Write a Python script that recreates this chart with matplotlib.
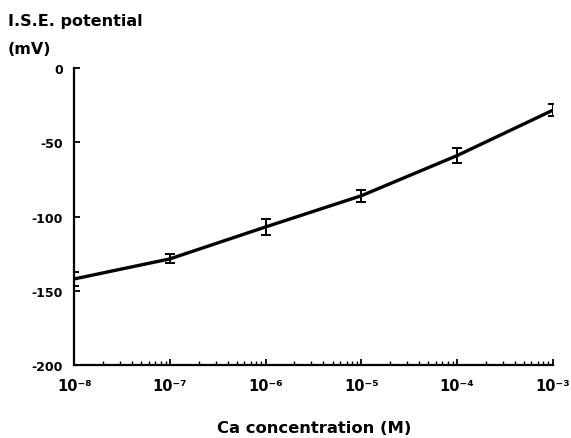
import matplotlib
matplotlib.use("Agg")
import matplotlib.pyplot as plt
from matplotlib.ticker import LogLocator, NullFormatter, FixedLocator

# data
ca_conc = [1e-8, 1e-7, 1e-6, 1e-5, 1e-4, 1e-3]
potential_mv = [-142, -128.5, -107, -86, -59, -28.5]
error_mv = [4.5, 3, 5.5, 4, 5, 4]

y_ticks = [0, -50, -100, -150, -200]
x_tick_labels = ["10\u207b\u2078", "10\u207b\u2077", "10\u207b\u2076",
                 "10\u207b\u2075", "10\u207b\u2074", "10\u207b\u00b3"]

plt.rcParams["font.family"] = ["DejaVu Sans"]
plt.rcParams["font.weight"] = "bold"

fig = plt.figure(figsize=(5.71, 4.39), dpi=100)
ax = fig.add_axes([0.13, 0.166, 0.838, 0.677])

ax.errorbar(ca_conc, potential_mv, yerr=error_mv, color="black", lw=2.4,
            elinewidth=1.4, capsize=3.5, capthick=1.4)

ax.set_xscale("log")
ax.set_xlim(1e-8, 1e-3)
ax.set_ylim(-200, 0)

ax.xaxis.set_major_locator(FixedLocator(ca_conc))
ax.set_xticklabels(x_tick_labels)
ax.xaxis.set_minor_locator(LogLocator(base=10, subs=range(2, 10)))
ax.xaxis.set_minor_formatter(NullFormatter())
ax.set_yticks(y_ticks)
ax.set_yticklabels([str(v) for v in y_ticks])

ax.tick_params(axis="both", which="major", direction="in", length=4, width=1.3,
               labelsize=9, pad=8)
ax.tick_params(axis="x", which="minor", direction="in", length=3, width=1)
ax.tick_params(axis="x", which="major", labelsize=10.5, pad=9)

for side in ("top", "right"):
    ax.spines[side].set_visible(False)
for side in ("left", "bottom"):
    ax.spines[side].set_linewidth(1.6)

fig.text(0.014, 0.952, "I.S.E. potential", fontsize=11.5, fontweight="bold", va="center")
fig.text(0.014, 0.888, "(mV)", fontsize=11.5, fontweight="bold", va="center")
fig.text(0.55, 0.023, "Ca concentration (M)", fontsize=11.8, fontweight="bold",
         ha="center", va="center")

fig.savefig("out.png", dpi=100)
